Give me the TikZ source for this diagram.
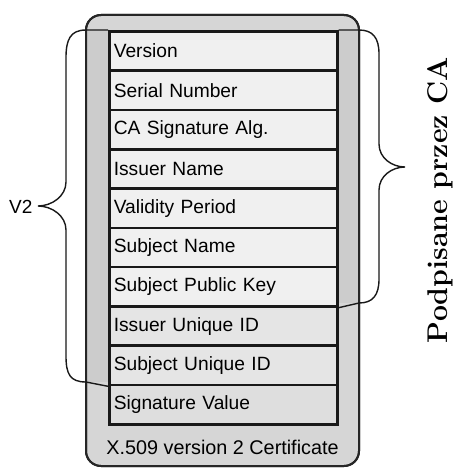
\documentclass[tikz,border=0pt]{standalone}
\usepackage{fontspec}
\setmainfont{Latin Modern Roman}
\newfontfamily\fieldfont{Liberation Sans}
\begin{document}
\begin{tikzpicture}[x=1pt,y=-1pt,
  field/.style={draw=black!90,line width=2.6pt,minimum width=228pt,minimum height=39.3pt,
    anchor=north west,inner sep=0pt,text width=219pt,align=left,
    font=\fieldfont\fontsize{19.2}{21}\selectfont},
  signed/.style={field,fill=black!6},
  extra/.style={field,fill=black!10},
  sigval/.style={field,fill=black!13},
  bracepath/.style={draw=black!90,line width=1.4pt}]
\useasboundingbox (0,0) rectangle (459,468);
% certificate frame
\draw[fill=black!16,draw=black!85,line width=2pt,rounded corners=15pt]
  (86,15) rectangle (359,466);
% side strips covered by each brace
\fill[black!20] (86,30) rectangle (108,382);
\fill[black!20] (336,30) rectangle (359,303);
\draw[draw=black!85,line width=2pt,rounded corners=15pt]
  (86,15) rectangle (359,466);
% certificate fields
\node[signed] (ver) at (108,30) {Version};
\node[signed] (ser) at (108,69.3) {Serial Number};
\node[signed] (alg) at (108,108.6) {CA Signature Alg.};
\node[signed] (iss) at (108,147.9) {Issuer Name};
\node[signed] (val) at (108,187.2) {Validity Period};
\node[signed] (sub) at (108,226.5) {Subject Name};
\node[signed] (pub) at (108,265.8) {Subject Public Key};
\node[extra]  (iuid) at (108,305.1) {Issuer Unique ID};
\node[extra]  (suid) at (108,344.4) {Subject Unique ID};
\node[sigval] (sig) at (108,383.7) {Signature Value};
\node[font=\fieldfont\fontsize{19.8}{21}\selectfont] (title) at (222.5,447) {X.509 version 2 Certificate};
% braces
\coordinate (v2top) at (ver.north west);
\coordinate (v2bot) at (suid.south west);
\draw[bracepath] (v2top) -- (86,30) .. controls (70,30) and (66,40) .. (66,58)
  -- (66,182) .. controls (66,196) and (52,206) .. (38,206)
  .. controls (52,206) and (66,216) .. (66,230)
  -- (66,356) .. controls (66,374) and (70,382) .. (86,382) -- (v2bot);
\node[font=\fieldfont\fontsize{19}{20}\selectfont,anchor=east] (v2) at (36,207) {V2};
\coordinate (catop) at (ver.north east);
\coordinate (cabot) at (pub.south east);
\draw[bracepath] (catop) -- (359,30) .. controls (373,30) and (379,38) .. (379,54)
  -- (379,144) .. controls (379,158) and (392,167) .. (405,167)
  .. controls (392,167) and (379,176) .. (379,190)
  -- (379,279) .. controls (379,295) and (373,303) .. (359,303) -- (cabot);
\node[rotate=90,font=\bfseries\fontsize{28.5}{30}\selectfont] (ca) at (440,200) {Podpisane przez CA};
\end{tikzpicture}
\end{document}
